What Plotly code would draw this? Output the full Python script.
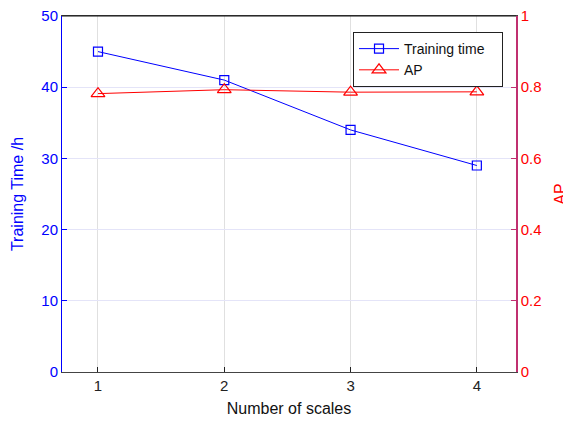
import plotly.graph_objects as go

scales = [1, 2, 3, 4]
training_time = [45, 41, 34, 29]
ap = [0.782, 0.793, 0.786, 0.787]

fig = go.Figure()
fig.add_trace(go.Scatter(x=scales, y=training_time, name="Training time   ", mode="lines+markers",
                         line=dict(color="blue", width=1),
                         marker=dict(symbol="square-open", size=9, color="blue", line=dict(width=1.2)),
                         yaxis="y"))
fig.add_trace(go.Scatter(x=scales, y=ap, name="AP", mode="lines+markers",
                         line=dict(color="red", width=1),
                         marker=dict(symbol="triangle-up-open", size=12, color="red", line=dict(width=1.2)),
                         yaxis="y2"))

font = "Liberation Sans, Arial, sans-serif"
fig.update_layout(
    width=563, height=415,
    margin=dict(l=54, r=55, t=8, b=51, autoexpand=False),
    paper_bgcolor="white", plot_bgcolor="white",
    font=dict(family=font, size=14, color="#222"),
    showlegend=True,
    legend=dict(x=0.641, y=0.955, xanchor="left", yanchor="top",
                bordercolor="#222", borderwidth=1, bgcolor="white",
                font=dict(size=14, color="#111"), tracegroupgap=0, itemwidth=40),
    xaxis=dict(range=[0.715, 4.31], tickvals=scales, ticktext=[str(s) for s in scales],
               showgrid=True, gridcolor="#e0e0e0", gridwidth=1,
               ticks="inside", ticklen=5, tickcolor="#222",
               showline=True, linecolor="#444", linewidth=1, mirror=True,
               title=dict(text="Number of scales", font=dict(size=16, color="#111"), standoff=9),
               tickfont=dict(size=15, color="#222"), zeroline=False, automargin=False),
    yaxis=dict(range=[0, 50], tickvals=[0, 10, 20, 30, 40, 50],
               showgrid=True, gridcolor="#e4e4f8", gridwidth=1,
               ticks="inside", ticklen=5, tickcolor="blue",
               showline=True, linecolor="blue", linewidth=1,
               title=dict(text="Training Time /h", font=dict(size=16, color="blue"), standoff=13),
               tickfont=dict(size=15, color="blue"), zeroline=False, automargin=False,
               ticklabeloverflow="allow"),
    yaxis2=dict(range=[0, 1], tickvals=[0, 0.2, 0.4, 0.6, 0.8, 1], ticktext=["0", "0.2", "0.4", "0.6", "0.8", "1"],
                overlaying="y", side="right", showgrid=False,
                ticks="inside", ticklen=5, tickcolor="#c03070",
                showline=True, linecolor="#c03070", linewidth=1.5,
                title=dict(text="AP", font=dict(size=16, color="red"), standoff=14),
                tickfont=dict(size=15, color="red"), zeroline=False, automargin=False,
                ticklabeloverflow="allow"),
)
# top border black
fig.add_shape(type="line", xref="paper", yref="paper", x0=0, x1=1, y0=1, y1=1,
              line=dict(color="#111", width=1))

fig.write_html("out.html")
